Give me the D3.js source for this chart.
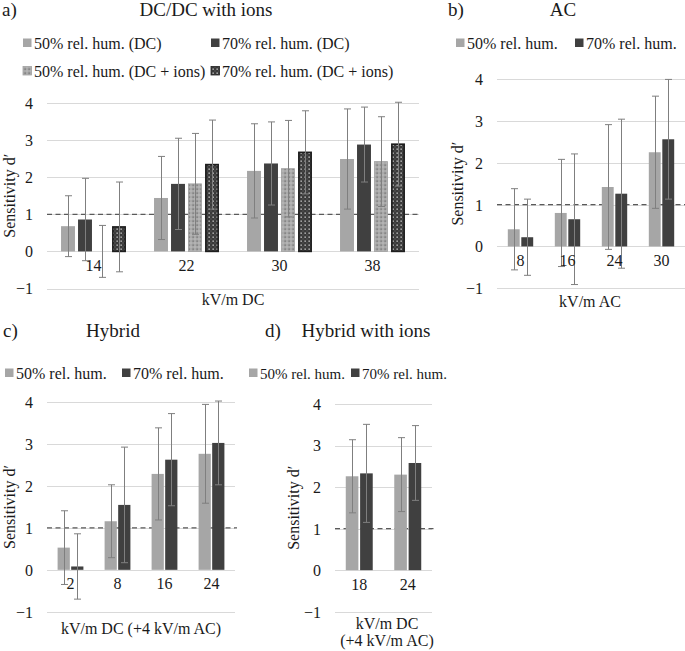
<!DOCTYPE html>
<html>
<head>
<meta charset="utf-8">
<script src="https://cdn.jsdelivr.net/npm/d3@7"></script>
<style>
  html, body { margin: 0; padding: 0; background: #fff; }
  svg { display: block; }
  text { font-family: 'Liberation Serif', 'Times New Roman', serif; fill: #1a1a1a; }
</style>
</head>
<body>
<svg id="chart" width="685" height="651"></svg>
<script>
// ---------------- DATA ----------------
const yTicks = [-1, 0, 1, 2, 3, 4];
const refLine = 1;

// Panel a) DC/DC with ions
const catsA = ["14", "22", "30", "38"];
const seriesA = ["50% rel. hum. (DC)", "70% rel. hum. (DC)", "50% rel. hum. (DC + ions)", "70% rel. hum. (DC + ions)"];
const valsA50DC   = [0.68, 1.44, 2.17, 2.49];
const errA50DC    = [0.82, 1.12, 1.27, 1.35];
const valsA70DC   = [0.86, 1.82, 2.37, 2.88];
const errA70DC    = [1.11, 1.23, 1.12, 1.01];
const valsA50Ion  = [0.00, 1.82, 2.23, 2.42];
const errA50Ion   = [0.70, 1.36, 1.30, 1.21];
const valsA70Ion  = [0.66, 2.34, 2.67, 2.89];
const errA70Ion   = [1.21, 1.20, 1.12, 1.13];

// Panel b) AC
const catsB = ["8", "16", "24", "30"];
const seriesB = ["50% rel. hum.", "70% rel. hum."];
const valsB50 = [0.41, 0.80, 1.42, 2.25];
const errB50  = [0.97, 1.28, 1.49, 1.34];
const valsB70 = [0.22, 0.65, 1.26, 2.56];
const errB70  = [0.91, 1.56, 1.78, 1.43];

// Panel c) Hybrid
const catsC = ["2", "8", "16", "24"];
const seriesC = ["50% rel. hum.", "70% rel. hum."];
const valsC50 = [0.53, 1.16, 2.29, 2.77];
const errC50  = [0.88, 0.87, 1.10, 1.18];
const valsC70 = [0.08, 1.55, 2.63, 3.03];
const errC70  = [0.78, 1.38, 1.10, 1.00];

// Panel d) Hybrid with ions
const catsD = ["18", "24"];
const seriesD = ["50% rel. hum.", "70% rel. hum."];
const valsD50 = [2.26, 2.30];
const errD50  = [0.88, 0.89];
const valsD70 = [2.33, 2.58];
const errD70  = [1.18, 0.90];

// ---------------- STYLE / LAYOUT ----------------
const FONT = "'Liberation Serif', 'Times New Roman', serif";
const svg = d3.select("#chart");
const defs = svg.append("defs");

function dotPattern(id, base, dot, dotSize, dot2, dot2Size) {
  const p = defs.append("pattern").attr("id", id)
    .attr("patternUnits", "userSpaceOnUse").attr("width", 4).attr("height", 4);
  p.append("rect").attr("width", 4).attr("height", 4).attr("fill", base);
  p.append("rect").attr("x", 0.5).attr("y", 0.5).attr("width", dotSize).attr("height", dotSize).attr("fill", dot);
  p.append("rect").attr("x", 2.5).attr("y", 2.5).attr("width", dot2Size).attr("height", dot2Size).attr("fill", dot2);
}
dotPattern("dotsLight", "#a9a9a9", "#626262", 1.2, "#d2d2d2", 1);
dotPattern("dotsDark", "#3a3a3a", "#d8d8d8", 1.3, "#6a6a6a", 1);

const styles = {
  light:    { fill: "#a6a6a6", stroke: "none", sw: 0 },
  dark:     { fill: "#404040", stroke: "none", sw: 0 },
  lightIon: { fill: "url(#dotsLight)", stroke: "#a0a0a0", sw: 0.8 },
  darkIon:  { fill: "url(#dotsDark)", stroke: "#1e1e1e", sw: 1.6 }
};

const panels = [
  {
    tag: "a)", tagX: 2, title: "DC/DC with ions", titleX: 206, titleY: 16,
    cats: catsA, series: seriesA,
    vals: [valsA50DC, valsA70DC, valsA50Ion, valsA70Ion],
    errs: [errA50DC, errA70DC, errA50Ion, errA70Ion],
    st: ["light", "dark", "lightIon", "darkIon"],
    left: 47, right: 419, yBot: 288.5, yTop: 103,
    innerPadIn: 0.18, innerPadOut: 0.825,
    legend: [[23, 43], [211, 43], [23, 71], [211, 71]], legendFont: 16,
    xTitle: ["kV/m DC"], xTitleY: 305, xTitleX: 233,
    yTitleX: 15
  },
  {
    tag: "b)", tagX: 448, title: "AC", titleX: 563, titleY: 16,
    cats: catsB, series: seriesB,
    vals: [valsB50, valsB70], errs: [errB50, errB70],
    st: ["light", "dark"],
    left: 497, right: 685, yBot: 288.3, yTop: 79,
    innerPadIn: 0.12, innerPadOut: 0.8,
    legend: [[456, 43], [575, 43]], legendFont: 16,
    xTitle: ["kV/m AC"], xTitleY: 307, xTitleX: 590,
    yTitleX: 463
  },
  {
    tag: "c)", tagX: 3, title: "Hybrid", titleX: 113, titleY: 337,
    cats: catsC, series: seriesC,
    vals: [valsC50, valsC70], errs: [errC50, errC70],
    st: ["light", "dark"],
    left: 47, right: 235, yBot: 611.7, yTop: 402.3,
    innerPadIn: 0.1, innerPadOut: 0.78,
    legend: [[5, 373], [122, 373]], legendFont: 16,
    xTitle: ["kV/m DC (+4 kV/m AC)"], xTitleY: 634, xTitleX: 141,
    yTitleX: 15
  },
  {
    tag: "d)", tagX: 265, title: "Hybrid with ions", titleX: 366, titleY: 337,
    cats: catsD, series: seriesD,
    vals: [valsD50, valsD70], errs: [errD50, errD70],
    st: ["light", "dark"],
    left: 335, right: 432, yBot: 611.7, yTop: 404,
    innerPadIn: 0.12, innerPadOut: 0.75,
    legend: [[249, 373], [351, 373]], legendFont: 15,
    xTitle: ["kV/m DC", "(+4 kV/m AC)"], xTitleY: 629, xTitleX: 387,
    yTitleX: 299
  }
];

panels.forEach(p => {
  const g = svg.append("g").attr("font-family", FONT);
  const y = d3.scaleLinear().domain([-1, 4]).range([p.yBot, p.yTop]);
  const x0 = d3.scaleBand().domain(p.cats).range([p.left, p.right]).padding(0);
  const x1 = d3.scaleBand().domain(d3.range(p.series.length))
    .range([0, x0.bandwidth()]).paddingInner(p.innerPadIn).paddingOuter(p.innerPadOut);

  // title + tag
  g.append("text").attr("x", p.tagX).attr("y", p.titleY).attr("font-size", 19).text(p.tag);
  g.append("text").attr("x", p.titleX).attr("y", p.titleY).attr("font-size", 19)
    .attr("text-anchor", "middle").text(p.title);

  // legend
  p.series.forEach((s, i) => {
    const [lx, ly] = p.legend[i];
    const st = styles[p.st[i]];
    g.append("rect").attr("x", lx).attr("y", ly - 4.5).attr("width", 8.5).attr("height", 8.5)
      .attr("fill", st.fill).attr("stroke", st.stroke).attr("stroke-width", st.sw ? 0.8 : 0);
    g.append("text").attr("x", lx + 11).attr("y", ly + 5.5).attr("font-size", p.legendFont).text(s);
  });

  // gridlines
  g.append("g").selectAll("line").data(yTicks).join("line")
    .attr("x1", p.left).attr("x2", p.right)
    .attr("y1", d => Math.round(y(d)) + 0.5).attr("y2", d => Math.round(y(d)) + 0.5)
    .attr("stroke", "#d9d9d9").attr("stroke-width", 1);

  // y axis tick labels via d3 axis
  const yAxis = g.append("g").attr("transform", `translate(${p.left - 14},0)`)
    .call(d3.axisLeft(y).tickValues(yTicks).tickSize(0).tickPadding(0).tickFormat(d3.format("d")));
  yAxis.attr("font-family", FONT);
  yAxis.select(".domain").remove();
  yAxis.selectAll("text").attr("font-size", 16).style("font-family", FONT)
    .attr("fill", "#1a1a1a").attr("dy", "0.34em");

  // y title
  g.append("text")
    .attr("transform", `translate(${p.yTitleX},${(p.yBot + p.yTop) / 2}) rotate(-90)`)
    .attr("text-anchor", "middle").attr("font-size", 16).text("Sensitivity d\u2032");

  // reference dashed line
  g.append("line").attr("x1", p.left).attr("x2", p.right + 2)
    .attr("y1", y(refLine)).attr("y2", y(refLine))
    .attr("stroke", "#5a5a5a").attr("stroke-width", 1.3).attr("stroke-dasharray", "5,3.5");

  // bars
  p.series.forEach((s, si) => {
    const st = styles[p.st[si]];
    const data = p.cats.map((c, ci) => ({ c, v: p.vals[si][ci], e: p.errs[si][ci] }));
    g.append("g").selectAll("rect").data(data).join("rect")
      .attr("x", d => x0(d.c) + x1(si) + (st.sw ? st.sw / 2 : 0))
      .attr("width", x1.bandwidth() - (st.sw ? st.sw : 0))
      .attr("y", d => Math.min(y(d.v), y(0)))
      .attr("height", d => Math.abs(y(0) - y(d.v)))
      .attr("fill", st.fill).attr("stroke", st.stroke).attr("stroke-width", st.sw);
  });

  // error bars
  p.series.forEach((s, si) => {
    const data = p.cats.map((c, ci) => ({ c, v: p.vals[si][ci], e: p.errs[si][ci] }));
    const eg = g.append("g").attr("stroke", "#7f7f7f").attr("stroke-width", 1).attr("fill", "none");
    const cx = d => Math.round(x0(d.c) + x1(si) + x1.bandwidth() / 2) + 0.5;
    eg.selectAll("line.v").data(data).join("line").attr("class", "v")
      .attr("x1", cx).attr("x2", cx)
      .attr("y1", d => y(d.v + d.e)).attr("y2", d => y(d.v - d.e));
    eg.selectAll("line.t").data(data).join("line").attr("class", "t")
      .attr("x1", d => cx(d) - 3.5).attr("x2", d => cx(d) + 3.5)
      .attr("y1", d => y(d.v + d.e)).attr("y2", d => y(d.v + d.e));
    eg.selectAll("line.b").data(data).join("line").attr("class", "b")
      .attr("x1", d => cx(d) - 3.5).attr("x2", d => cx(d) + 3.5)
      .attr("y1", d => y(d.v - d.e)).attr("y2", d => y(d.v - d.e));
  });

  // category labels via d3 axis
  const xAxis = g.append("g").attr("transform", `translate(0,${y(0) + 8})`)
    .call(d3.axisBottom(x0).tickSize(0).tickPadding(0));
  xAxis.attr("font-family", FONT);
  xAxis.select(".domain").remove();
  xAxis.selectAll("text").attr("font-size", 16).style("font-family", FONT)
    .attr("fill", "#1a1a1a").attr("dy", "0.71em");

  // x title
  p.xTitle.forEach((t, i) => {
    g.append("text").attr("x", p.xTitleX).attr("y", p.xTitleY + i * 16.5)
      .attr("text-anchor", "middle").attr("font-size", 16).text(t);
  });
});
</script>
</body>
</html>
